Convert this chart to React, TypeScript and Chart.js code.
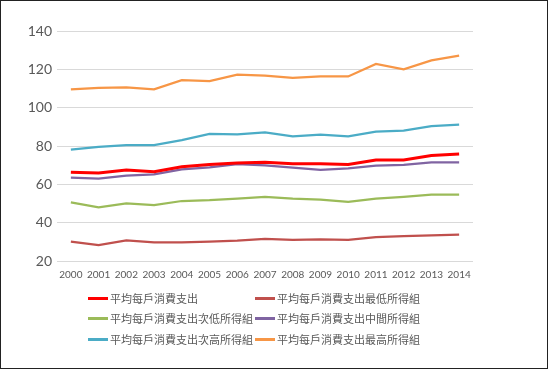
import React, { useEffect, useRef } from "react";
import { Chart, registerables } from "chart.js";

Chart.register(...registerables);

const years = ["2000","2001","2002","2003","2004","2005","2006","2007","2008","2009","2010","2011","2012","2013","2014"];
const avgAll = [66.3,65.9,67.5,66.6,69.2,70.4,71.1,71.5,70.8,70.8,70.3,72.7,72.7,75.0,75.8];
const lowest = [30.1,28.3,30.8,29.7,29.7,30.1,30.6,31.5,31.0,31.3,31.0,32.5,33.0,33.4,33.7];
const secondLow = [50.6,48.0,50.1,49.2,51.3,51.7,52.5,53.4,52.5,52.0,50.8,52.5,53.4,54.6,54.6];
const middle = [63.5,63.0,64.5,65.2,67.8,68.9,70.6,69.9,68.7,67.5,68.3,69.7,70.1,71.5,71.5];
const secondHigh = [78.1,79.5,80.5,80.5,83.1,86.3,86.1,87.1,85.0,85.9,85.0,87.5,88.0,90.4,91.1];
const highest = [109.6,110.3,110.6,109.6,114.4,113.9,117.2,116.7,115.5,116.3,116.3,122.8,120.0,124.7,127.1];

const seriesNames = [
  "平均每戶消費支出",
  "平均每戶消費支出最低所得組",
  "平均每戶消費支出次低所得組",
  "平均每戶消費支出中間所得組",
  "平均每戶消費支出次高所得組",
  "平均每戶消費支出最高所得組",
];
const seriesData = [avgAll, lowest, secondLow, middle, secondHigh, highest];
const seriesColors = ["#FF0000", "#C0504D", "#9BBB59", "#8064A2", "#4BACC6", "#F79646"];
const seriesWidths = [3, 2.25, 2.25, 2.25, 2.25, 2.25];

export default function App() {
  const ref = useRef<HTMLCanvasElement>(null);
  useEffect(() => {
    if (!ref.current) return;
    const chart = new Chart(ref.current, {
      type: "line",
      data: {
        labels: years,
        datasets: seriesNames.map((n, i) => ({
          label: n,
          data: seriesData[i],
          borderColor: seriesColors[i],
          backgroundColor: seriesColors[i],
          borderWidth: seriesWidths[i],
          pointRadius: 0,
          tension: 0,
          fill: false,
        })),
      },
      options: {
        animation: false,
        responsive: false,
        maintainAspectRatio: false,
        layout: { padding: { left: 0, right: 75, top: 31, bottom: 83 } },
        plugins: { legend: { display: false }, tooltip: { enabled: false } },
        scales: {
          x: {
            offset: true,
            grid: { display: false, drawTicks: false },
            border: { display: false },
            ticks: { color: "#595959", font: { family: "Lato", size: 10 }, padding: 8, maxRotation: 0, autoSkip: false },
            afterFit: (s: any) => { s.height = 25; },
          },
          y: {
            min: 20,
            max: 140,
            ticks: { stepSize: 20, color: "#595959", font: { family: "Lato", size: 14 }, padding: 5 },
            grid: { color: "#D9D9D9", drawTicks: false },
            border: { display: false },
            afterFit: (s: any) => { s.width = 57; },
          },
        },
      },
    });
    return () => chart.destroy();
  }, []);

  const legendPos = [
    { x: 88, y: 298 }, { x: 255, y: 298 },
    { x: 88, y: 318 }, { x: 255, y: 318 },
    { x: 88, y: 339 }, { x: 255, y: 339 },
  ];

  return (
    <div style={{ position: "absolute", left: 0, top: 0, width: 548, height: 369, background: "#fff" }}>
      <canvas ref={ref} width={548} height={369} style={{ position: "absolute", left: 0, top: 0, width: 548, height: 369 }} />
      {seriesNames.map((n, i) => (
        <div key={n} style={{ position: "absolute", left: legendPos[i].x, top: legendPos[i].y - 8, height: 16, display: "flex", alignItems: "center", whiteSpace: "nowrap" }}>
          <span style={{ display: "inline-block", width: 20, height: 3, background: seriesColors[i], marginRight: 2 }} />
          <span style={{ fontFamily: "'Noto Sans CJK TC'", fontSize: 11, color: "#595959", lineHeight: "16px" }}>{n}</span>
        </div>
      ))}
      <div style={{ position: "absolute", left: 0, top: 0, width: 548, height: 369, boxSizing: "border-box", border: "1px solid #222", pointerEvents: "none" }} />
    </div>
  );
}
